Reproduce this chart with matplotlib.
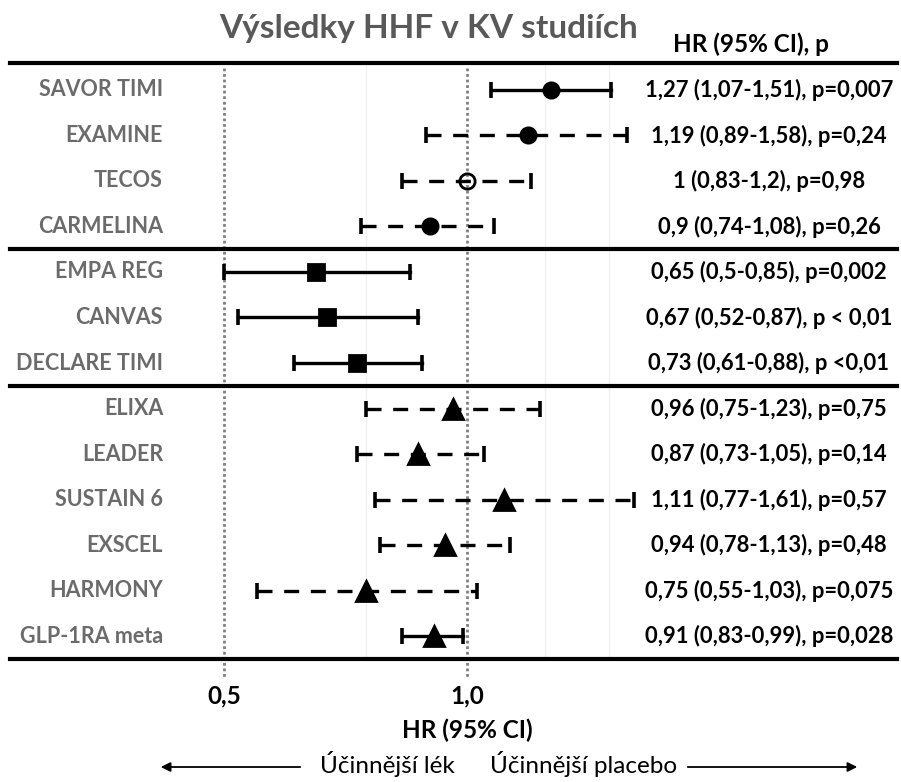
import matplotlib
matplotlib.use('Agg')
import matplotlib.pyplot as plt
import matplotlib.transforms as mtransforms

plt.rcParams['font.family'] = ['Lato', 'DejaVu Sans']

# data
studies = ['SAVOR TIMI', 'EXAMINE', 'TECOS', 'CARMELINA',
           'EMPA REG', 'CANVAS', 'DECLARE TIMI',
           'ELIXA', 'LEADER', 'SUSTAIN 6', 'EXSCEL', 'HARMONY', 'GLP-1RA meta']
hr = [1.27, 1.19, 1.00, 0.90, 0.65, 0.67, 0.73, 0.96, 0.87, 1.11, 0.94, 0.75, 0.91]
ci_low = [1.07, 0.89, 0.83, 0.74, 0.50, 0.52, 0.61, 0.75, 0.73, 0.77, 0.78, 0.55, 0.83]
ci_high = [1.51, 1.58, 1.20, 1.08, 0.85, 0.87, 0.88, 1.23, 1.05, 1.61, 1.13, 1.03, 0.99]
results = ['1,27 (1,07-1,51), p=0,007', '1,19 (0,89-1,58), p=0,24',
           '1 (0,83-1,2), p=0,98', '0,9 (0,74-1,08), p=0,26',
           '0,65 (0,5-0,85), p=0,002', '0,67 (0,52-0,87), p < 0,01',
           '0,73 (0,61-0,88), p <0,01', '0,96 (0,75-1,23), p=0,75',
           '0,87 (0,73-1,05), p=0,14', '1,11 (0,77-1,61), p=0,57',
           '0,94 (0,78-1,13), p=0,48', '0,75 (0,55-1,03), p=0,075',
           '0,91 (0,83-0,99), p=0,028']
markers = ['o', 'o', 'o', 'o', 's', 's', 's', '^', '^', '^', '^', '^', '^']
dashed = [False, True, True, True, False, False, False, True, True, True, True, True, False]
hollow = [False, False, True, False, False, False, False, False, False, False, False, False, False]
group_breaks = [3.5, 6.5]
ref_lines = [0.5, 1.0]
ref_labels = ['0,5', '1,0']

W, H = 901, 782
fig = plt.figure(figsize=(W / 100, H / 100), dpi=100)
ax = fig.add_axes([10 / W, 1 - 661 / H, 887 / W, 601 / H])
ax.set_xscale('log')
ax.set_xlim(0.2716, 3.409)
ax.set_ylim(12.549, -0.659)
ax.axis('off')

# faint grid
for g in [0.75, 1.25, 1.5]:
    ax.plot([g, g], [-0.6, 12.5], color='#f0f0f0', lw=1, zorder=0)

# reference dotted lines + labels
tr_xf = mtransforms.blended_transform_factory(ax.transData, fig.transFigure)
for r, lab in zip(ref_lines, ref_labels):
    ax.plot([r, r], [-0.48, 12.92], color='#808080', ls=(0, (1, 1)), lw=2,
            clip_on=False, zorder=1)
    ax.text(r, 1 - 696 / H, lab, transform=tr_xf, ha='center', va='center',
            fontsize=17.5, fontweight='bold')

# horizontal separators
for yb in [-0.6] + group_breaks + [12.5]:
    ax.axhline(yb, color='black', lw=3, clip_on=False, zorder=2)

for i in range(len(studies)):
    ls = (0, (4.5, 3.5)) if dashed[i] else '-'
    ax.plot([ci_low[i], ci_high[i]], [i, i], color='black', lw=2.4, ls=ls, zorder=3)
    ax.plot([ci_low[i], ci_high[i]], [i, i], ls='none', marker='|', ms=11,
            mew=2.6, color='black', zorder=3)
    ms = {'o': 11, 's': 11, '^': 15}[markers[i]]
    ax.plot(hr[i], i, marker=markers[i], ms=ms, color='black',
            mfc='none' if hollow[i] else 'black', mew=2, zorder=4)

# labels
tr = mtransforms.blended_transform_factory(fig.transFigure, ax.transData)
for i, name in enumerate(studies):
    ax.text(163 / W, i, name, transform=tr, ha='right', va='center',
            fontsize=15.5, fontweight='bold', color='#6b6b6b')
    ax.text(769 / W, i, results[i], transform=tr, ha='center', va='center',
            fontsize=15.8, fontweight='bold', color='black')

fig.text(429 / W, 1 - 38 / H, 'Výsledky HHF v KV studiích', ha='center', va='baseline',
         fontsize=24, fontweight='bold', color='#595959')
fig.text(751 / W, 1 - 52 / H, 'HR (95% CI), p', ha='center', va='baseline',
         fontsize=17.5, fontweight='bold', color='black')
ax.text(1.0, 1 - 730 / H, 'HR (95% CI)', transform=tr_xf, ha='center', va='center',
        fontsize=17.5, fontweight='bold', color='black')

yb = 1 - 764 / H
fig.text(455 / W, yb, 'Účinnější lék', ha='right', va='center', fontsize=17.5)
fig.text(490 / W, yb, 'Účinnější placebo', ha='left', va='center', fontsize=17.5)
ya = 1 - 767 / H
ax.annotate('', xy=(158 / W, ya), xytext=(303 / W, ya), xycoords='figure fraction',
            arrowprops=dict(arrowstyle='-|>', color='black', lw=1.3, mutation_scale=14))
ax.annotate('', xy=(860 / W, ya), xytext=(685 / W, ya), xycoords='figure fraction',
            arrowprops=dict(arrowstyle='-|>', color='black', lw=1.3, mutation_scale=14))

fig.savefig('out.png', dpi=100)
